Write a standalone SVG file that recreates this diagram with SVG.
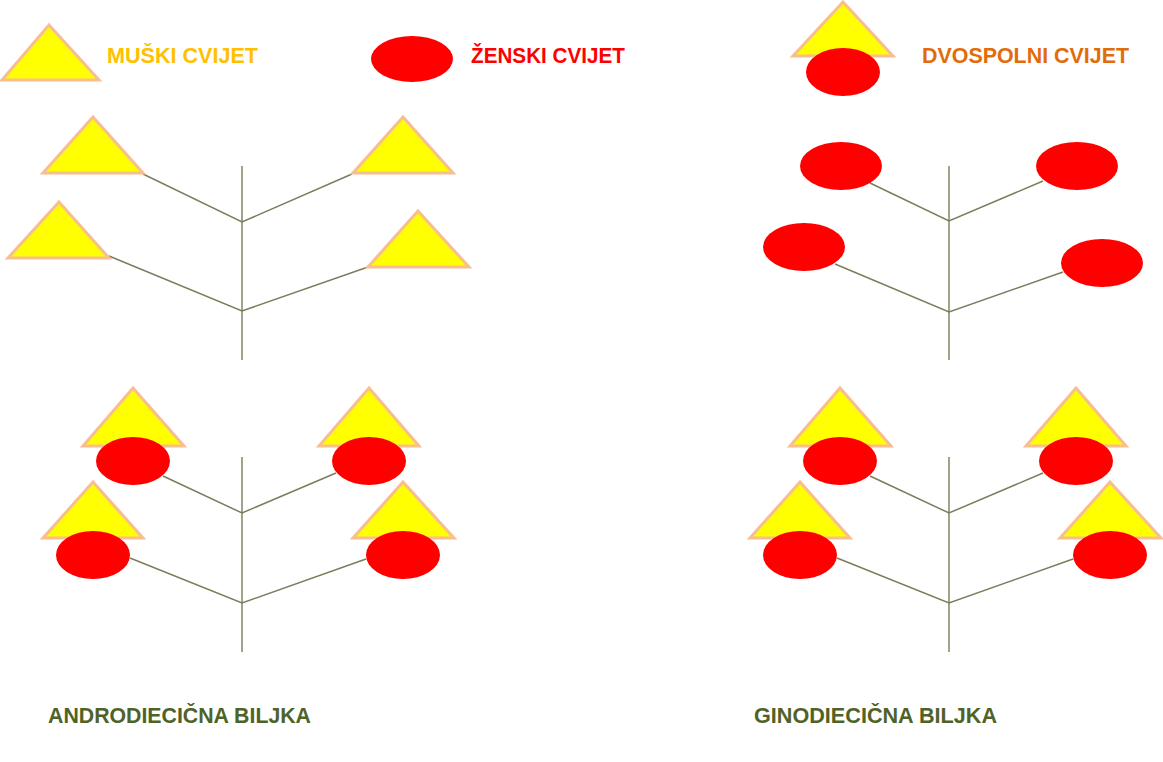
<svg xmlns="http://www.w3.org/2000/svg" width="1163" height="762" viewBox="0 0 1163 762">
<defs>
<style>
.tri{fill:#FFFF00;stroke:#F8BE90;stroke-width:3;stroke-linejoin:miter}
.ell{fill:#FF0000;stroke:none}
.stem{stroke:#A3A38C;stroke-width:2;fill:none}
.br{stroke:#7C7C5C;stroke-width:1.5;fill:none}
.t{font-family:"Liberation Sans",Arial,sans-serif;font-weight:bold;font-size:22.5px}
.lbl{font-family:"Liberation Sans",Arial,sans-serif;font-weight:bold;font-size:22px;fill:#4F6228}
</style>
</defs>
<rect width="1163" height="762" fill="#FFFFFF"/>

<g id="legend-male">
<polygon class="tri" points="49,25 99,80 2,80"/>
<text class="t" x="107" y="63" fill="#FFC000" textLength="151" lengthAdjust="spacingAndGlyphs">MUŠKI CVIJET</text>
</g>
<g id="legend-female">
<ellipse class="ell" cx="412" cy="59" rx="41" ry="23"/>
<text class="t" x="471" y="63" fill="#FF0000" textLength="154" lengthAdjust="spacingAndGlyphs">ŽENSKI CVIJET</text>
</g>
<g id="legend-bisexual">
<polygon class="tri" points="843,2 893,56 793,56"/>
<ellipse class="ell" cx="843" cy="72" rx="37" ry="24"/>
<text class="t" x="922" y="63" fill="#E36C0A" textLength="207" lengthAdjust="spacingAndGlyphs">DVOSPOLNI CVIJET</text>
</g>

<g id="connectors">
<line class="stem" x1="242" y1="166" x2="242" y2="360"/>
<polyline class="br" points="143,174 242,222 352,174"/>
<polyline class="br" points="109,256 242,311 368,267"/>
<line class="stem" x1="949" y1="166" x2="949" y2="360"/>
<polyline class="br" points="870,183 949,221 1043,181"/>
<polyline class="br" points="835,264 949,312 1063,272"/>
<line class="stem" x1="242" y1="457" x2="242" y2="652"/>
<polyline class="br" points="163,476 242,513 336,473"/>
<polyline class="br" points="130,558 242,603 366,559"/>
<line class="stem" x1="949" y1="457" x2="949" y2="652"/>
<polyline class="br" points="870,476 949,513 1043,473"/>
<polyline class="br" points="837,558 949,603 1073,559"/>
</g>

<g id="plant-top-left">
<polygon class="tri" points="93,117 143,173 43,173"/>
<polygon class="tri" points="403,117 453,173 353,173"/>
<polygon class="tri" points="59,202 109,258 8,258"/>
<polygon class="tri" points="418,211 469,267 368,267"/>
</g>

<g id="plant-top-right">
<ellipse class="ell" cx="841" cy="166" rx="41" ry="24"/>
<ellipse class="ell" cx="1077" cy="166" rx="41" ry="24"/>
<ellipse class="ell" cx="804" cy="247" rx="41" ry="24"/>
<ellipse class="ell" cx="1102" cy="263" rx="41" ry="24"/>
</g>

<g id="plant-bottom-left">
<polygon class="tri" points="133,388 184,446 83,446"/>
<ellipse class="ell" cx="133" cy="461" rx="37" ry="24"/>
<polygon class="tri" points="369,388 419,446 319,446"/>
<ellipse class="ell" cx="369" cy="461" rx="37" ry="24"/>
<polygon class="tri" points="93,482 143,538 43,538"/>
<ellipse class="ell" cx="93" cy="555" rx="37" ry="24"/>
<polygon class="tri" points="403,482 454,538 353,538"/>
<ellipse class="ell" cx="403" cy="555" rx="37" ry="24"/>
</g>

<g id="plant-bottom-right">
<polygon class="tri" points="840,388 891,446 790,446"/>
<ellipse class="ell" cx="840" cy="461" rx="37" ry="24"/>
<polygon class="tri" points="1076,388 1126,446 1026,446"/>
<ellipse class="ell" cx="1076" cy="461" rx="37" ry="24"/>
<polygon class="tri" points="800,482 850,538 750,538"/>
<ellipse class="ell" cx="800" cy="555" rx="37" ry="24"/>
<polygon class="tri" points="1110,482 1161,538 1060,538"/>
<ellipse class="ell" cx="1110" cy="555" rx="37" ry="24"/>
</g>

<g id="label-andro">
<text class="lbl" x="48" y="723" textLength="263" lengthAdjust="spacingAndGlyphs">ANDRODIECIČNA BILJKA</text>
</g>
<g id="label-gino">
<text class="lbl" x="754" y="723" textLength="243" lengthAdjust="spacingAndGlyphs">GINODIECIČNA BILJKA</text>
</g>
</svg>
